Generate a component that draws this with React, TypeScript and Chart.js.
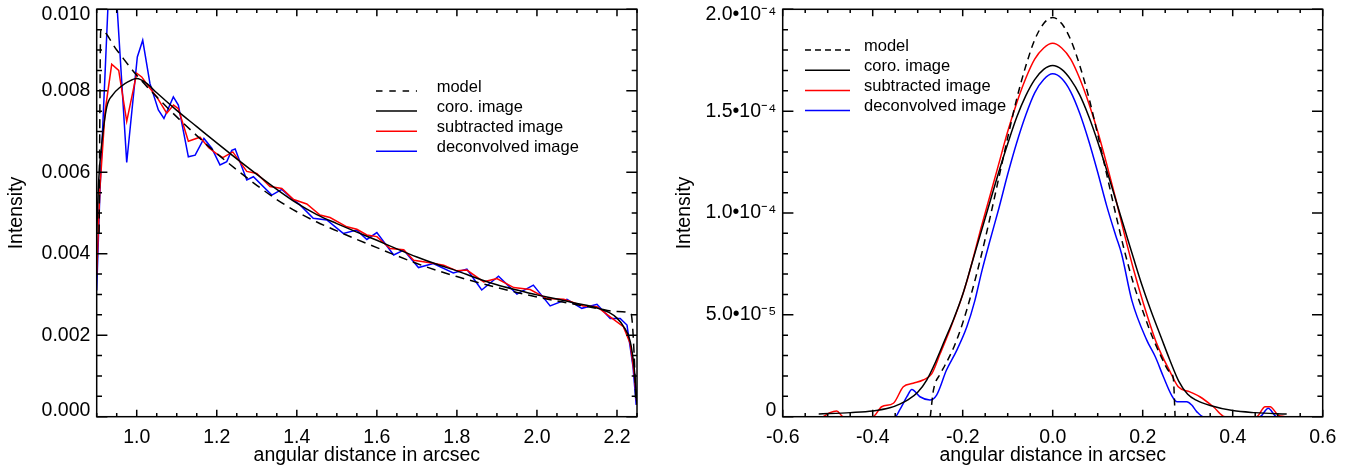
import React, { useEffect, useRef } from 'react';
import { Chart, registerables } from 'chart.js';

Chart.register(...registerables);

const FONT = "'Liberation Sans', Arial, Helvetica, sans-serif";
const TICK_SIZE = 19.5;
const LEGEND_SIZE = 16.5;

const seriesLabels = ['model', 'coro. image', 'subtracted image', 'deconvolved image'];
const seriesColors = ['#000000', '#000000', '#ff0000', '#0000ff'];

// ---------------- Left panel ----------------
const leftXTicks = [1.0, 1.2, 1.4, 1.6, 1.8, 2.0, 2.2];
const leftXTickLabels = ['1.0', '1.2', '1.4', '1.6', '1.8', '2.0', '2.2'];
const leftYTicks = [0, 0.002, 0.004, 0.006, 0.008, 0.01];
const leftYTickLabels = ['0.000', '0.002', '0.004', '0.006', '0.008', '0.010'];

const leftModelX = [0.906, 0.91, 0.95, 1.0, 1.05, 1.1, 1.15, 1.2, 1.25, 1.3, 1.35, 1.4, 1.45, 1.5, 1.55, 1.6, 1.65, 1.7, 1.75, 1.8, 1.85, 1.9, 1.95, 2.0, 2.05, 2.1, 2.15, 2.2, 2.235, 2.243, 2.247];
const leftModelY = [0.0045, 0.0095, 0.009, 0.00838, 0.00785, 0.00736, 0.0069, 0.00646, 0.00606, 0.00568, 0.00533, 0.00503, 0.00478, 0.00456, 0.00435, 0.00415, 0.00395, 0.00376, 0.00359, 0.00344, 0.0033, 0.00317, 0.00305, 0.00294, 0.00284, 0.00275, 0.00266, 0.00258, 0.00253, 0.0015, 0.0004];

const leftCoroX = [0.9, 0.905, 0.9125, 0.925, 0.94, 0.96, 0.98, 1.0, 1.025, 1.05, 1.1, 1.15, 1.2, 1.25, 1.3, 1.35, 1.4, 1.45, 1.5, 1.55, 1.6, 1.65, 1.7, 1.75, 1.8, 1.85, 1.9, 1.95, 2.0, 2.05, 2.1, 2.15, 2.18, 2.2, 2.216, 2.233, 2.243, 2.25];
const leftCoroY = [0.0045, 0.0058, 0.0067, 0.0076, 0.0079, 0.0081, 0.00823, 0.0083, 0.00818, 0.00795, 0.00752, 0.00712, 0.00672, 0.00633, 0.00595, 0.00558, 0.00524, 0.00496, 0.00474, 0.00453, 0.00433, 0.00412, 0.00392, 0.00374, 0.00358, 0.0034, 0.00324, 0.00311, 0.00299, 0.00289, 0.00278, 0.00267, 0.00256, 0.00242, 0.00222, 0.00185, 0.0012, 0.0003];

const leftSubX = [0.9, 0.908, 0.921, 0.9375, 0.955, 0.975, 1.0, 1.0125, 1.03, 1.05, 1.075, 1.092, 1.104, 1.129, 1.158, 1.18, 1.2, 1.215, 1.24, 1.275, 1.3, 1.333, 1.3625, 1.392, 1.425, 1.458, 1.483, 1.525, 1.55, 1.575, 1.6, 1.633, 1.667, 1.692, 1.733, 1.767, 1.8, 1.825, 1.867, 1.9, 1.942, 1.983, 2.025, 2.067, 2.116, 2.15, 2.183, 2.216, 2.233, 2.243, 2.25];
const leftSubY = [0.0035, 0.0056, 0.0075, 0.00865, 0.0085, 0.00725, 0.00843, 0.00834, 0.0081, 0.00785, 0.00745, 0.00765, 0.00756, 0.00676, 0.00686, 0.0066, 0.00645, 0.00636, 0.0065, 0.00602, 0.00597, 0.00565, 0.0056, 0.00533, 0.00522, 0.00495, 0.00489, 0.00466, 0.0046, 0.00446, 0.00442, 0.00413, 0.0041, 0.00384, 0.00378, 0.00372, 0.00358, 0.0036, 0.00331, 0.00339, 0.00317, 0.00312, 0.0029, 0.00288, 0.00272, 0.0027, 0.00245, 0.00221, 0.0018, 0.00106, 0.00029];

const leftDeconvX = [0.9, 0.908, 0.9375, 0.975, 1.0015, 1.015, 1.033, 1.054, 1.068, 1.0915, 1.104, 1.129, 1.146, 1.168, 1.1875, 1.208, 1.225, 1.2375, 1.246, 1.275, 1.2915, 1.3375, 1.3625, 1.392, 1.408, 1.441, 1.475, 1.516, 1.55, 1.575, 1.6, 1.642, 1.667, 1.704, 1.741, 1.791, 1.825, 1.862, 1.904, 1.95, 1.991, 2.033, 2.075, 2.112, 2.15, 2.183, 2.208, 2.225, 2.24, 2.248];
const leftDeconvY = [0.0031, 0.0055, 0.0122, 0.00624, 0.00883, 0.00924, 0.00818, 0.00753, 0.00732, 0.00785, 0.00765, 0.00638, 0.00642, 0.00683, 0.00659, 0.00618, 0.00626, 0.00654, 0.00657, 0.00581, 0.00589, 0.00544, 0.00558, 0.00532, 0.0052, 0.00487, 0.00483, 0.0045, 0.00458, 0.00435, 0.00452, 0.00397, 0.00409, 0.00366, 0.00376, 0.00353, 0.00362, 0.00311, 0.00345, 0.00301, 0.00323, 0.00272, 0.00288, 0.00266, 0.00276, 0.00241, 0.00241, 0.00225, 0.00123, 0.00029];

// ---------------- Right panel ----------------
const rightXTicks = [-0.6, -0.4, -0.2, 0.0, 0.2, 0.4, 0.6];
const rightXTickLabels = ['-0.6', '-0.4', '-0.2', '0.0', '0.2', '0.4', '0.6'];
const rightYTicks = [0, 5e-5, 1e-4, 1.5e-4, 2e-4];
const rightYTickLabels = ['0', '5.0\u202210\u207B\u2075', '1.0\u202210\u207B\u2074', '1.5\u202210\u207B\u2074', '2.0\u202210\u207B\u2074'];

const rightModelX = [-0.272, -0.265, -0.25, -0.24, -0.22, -0.2, -0.18, -0.16, -0.14, -0.12, -0.1, -0.08, -0.06, -0.04, -0.02, 0, 0.02, 0.04, 0.06, 0.08, 0.1, 0.12, 0.14, 0.16, 0.18, 0.2, 0.22, 0.24, 0.26, 0.268, 0.272];
const rightModelY = [0, 1.3e-5, 2.1e-5, 2.5e-5, 3.4e-5, 4.6e-5, 6.1e-5, 7.8e-5, 9.7e-5, 11.7e-5, 13.7e-5, 15.6e-5, 17.2e-5, 18.5e-5, 19.3e-5, 19.6e-5, 19.3e-5, 18.5e-5, 17.25e-5, 15.7e-5, 13.85e-5, 11.9e-5, 9.95e-5, 8.1e-5, 6.5e-5, 5.2e-5, 4.0e-5, 3.0e-5, 2.2e-5, 1.9e-5, 0];

const rightCoroX = [-0.52, -0.45, -0.4, -0.36, -0.34, -0.32, -0.3, -0.28, -0.26, -0.24, -0.22, -0.2, -0.18, -0.16, -0.14, -0.12, -0.1, -0.08, -0.06, -0.04, -0.02, 0, 0.02, 0.04, 0.06, 0.08, 0.1, 0.12, 0.14, 0.16, 0.18, 0.2, 0.22, 0.24, 0.26, 0.28, 0.3, 0.32, 0.35, 0.4, 0.45, 0.52];
const rightCoroY = [0.13e-5, 0.2e-5, 0.28e-5, 0.45e-5, 0.62e-5, 0.85e-5, 1.2e-5, 1.8e-5, 2.7e-5, 3.75e-5, 4.8e-5, 6.0e-5, 7.5e-5, 9.0e-5, 10.5e-5, 12.0e-5, 13.4e-5, 14.7e-5, 15.75e-5, 16.55e-5, 17.05e-5, 17.24e-5, 17.05e-5, 16.55e-5, 15.8e-5, 14.75e-5, 13.5e-5, 12.1e-5, 10.65e-5, 9.2e-5, 7.75e-5, 6.35e-5, 5.1e-5, 3.95e-5, 2.8e-5, 1.75e-5, 1.1e-5, 0.8e-5, 0.55e-5, 0.3e-5, 0.2e-5, 0.13e-5];

const rightSubX = [-0.51, -0.495, -0.48, -0.465, -0.4, -0.38, -0.354, -0.332, -0.31, -0.288, -0.269, -0.25, -0.228, -0.206, -0.19, -0.173, -0.16, -0.14, -0.12, -0.1, -0.08, -0.06, -0.04, -0.02, 0, 0.02, 0.04, 0.06, 0.08, 0.1, 0.12, 0.14, 0.16, 0.18, 0.201, 0.231, 0.261, 0.279, 0.305, 0.327, 0.357, 0.383, 0.453, 0.472, 0.483, 0.501, 0.516];
const rightSubY = [0, 0.2e-5, 0.28e-5, 0, 0, 0.49e-5, 0.66e-5, 1.47e-5, 1.64e-5, 1.8e-5, 2.1e-5, 3.1e-5, 4.3e-5, 5.6e-5, 6.7e-5, 8.1e-5, 9.2e-5, 10.8e-5, 12.4e-5, 14.0e-5, 15.4e-5, 16.6e-5, 17.55e-5, 18.1e-5, 18.33e-5, 18.1e-5, 17.55e-5, 16.6e-5, 15.4e-5, 14.0e-5, 12.4e-5, 10.7e-5, 8.9e-5, 7.2e-5, 5.6e-5, 3.6e-5, 2.2e-5, 1.47e-5, 1.22e-5, 0.98e-5, 0.49e-5, 0, 0, 0.49e-5, 0.49e-5, 0.08e-5, 0];

const rightDeconvX = [-0.52, -0.35, -0.34, -0.324, -0.313, -0.295, -0.273, -0.258, -0.236, -0.213, -0.191, -0.173, -0.158, -0.14, -0.12, -0.1, -0.08, -0.06, -0.04, -0.02, 0, 0.02, 0.04, 0.06, 0.08, 0.1, 0.12, 0.14, 0.153, 0.176, 0.209, 0.228, 0.246, 0.264, 0.276, 0.298, 0.309, 0.32, 0.335, 0.46, 0.479, 0.498, 0.52];
const rightDeconvY = [0, 0, 0.33e-5, 0.98e-5, 1.34e-5, 0.98e-5, 0.82e-5, 1.06e-5, 2.29e-5, 3.27e-5, 4.4e-5, 5.7e-5, 7.1e-5, 8.6e-5, 10.2e-5, 11.9e-5, 13.45e-5, 14.8e-5, 15.9e-5, 16.55e-5, 16.83e-5, 16.6e-5, 15.95e-5, 14.9e-5, 13.55e-5, 12.0e-5, 10.35e-5, 8.9e-5, 8.0e-5, 5.7e-5, 3.76e-5, 2.94e-5, 1.96e-5, 1.06e-5, 0.74e-5, 0.74e-5, 0.57e-5, 0.25e-5, 0, 0, 0.41e-5, 0, 0];

type Panel = {
  series: { x: number[]; y: number[] }[];
  smooth: boolean[];
  modelDash: number[];
  xMin: number; xMax: number; yMin: number; yMax: number;
  xTicks: number[]; xTickLabels: string[];
  yTicks: number[]; yTickLabels: string[];
  xMinor: number; yMinor: number;
  yAxisWidth: number; xAxisHeight: number; top: number; padRight: number;
  yTitlePad: number;
  legend: { x0: number; x1: number; tx: number; y0: number; dy: number; textDy: number; dash: number[] };
};

function frameLegendPlugin(p: Panel) {
  return {
    id: 'frameLegend',
    afterDraw(chart: any) {
      const { ctx, chartArea: ca } = chart;
      const xs = chart.scales.x;
      const ys = chart.scales.y;
      const xMajorLen = 7, xMinorLen = 3.7, yMajorLen = 10.7, yMinorLen = 5.3;
      ctx.save();
      ctx.strokeStyle = '#000';
      ctx.lineWidth = 1.5;
      ctx.setLineDash([]);
      ctx.beginPath();
      const kx0 = Math.ceil(p.xMin / p.xMinor - 1e-6);
      const kx1 = Math.floor(p.xMax / p.xMinor + 1e-6);
      for (let k = kx0; k <= kx1; k++) {
        const v = k * p.xMinor;
        const major = p.xTicks.some((t) => Math.abs(t - v) < p.xMinor / 10);
        const len = major ? xMajorLen : xMinorLen;
        const px = xs.getPixelForValue(v);
        ctx.moveTo(px, ca.bottom); ctx.lineTo(px, ca.bottom - len);
        ctx.moveTo(px, ca.top); ctx.lineTo(px, ca.top + len);
      }
      const ky0 = Math.ceil(p.yMin / p.yMinor - 1e-6);
      const ky1 = Math.floor(p.yMax / p.yMinor + 1e-6);
      for (let k = ky0; k <= ky1; k++) {
        const v = k * p.yMinor;
        const major = p.yTicks.some((t) => Math.abs(t - v) < p.yMinor / 10);
        const len = major ? yMajorLen : yMinorLen;
        const py = ys.getPixelForValue(v);
        ctx.moveTo(ca.left, py); ctx.lineTo(ca.left + len, py);
        ctx.moveTo(ca.right, py); ctx.lineTo(ca.right - len, py);
      }
      ctx.stroke();
      ctx.strokeRect(ca.left, ca.top, ca.right - ca.left, ca.bottom - ca.top);

      const L = p.legend;
      chart.data.datasets.forEach((ds: any, i: number) => {
        const yLine = ca.top + L.y0 + i * L.dy;
        ctx.beginPath();
        ctx.strokeStyle = ds.borderColor;
        ctx.lineWidth = 1.5;
        ctx.setLineDash(ds.borderDash && ds.borderDash.length ? L.dash : []);
        ctx.moveTo(ca.left + L.x0, yLine);
        ctx.lineTo(ca.left + L.x1, yLine);
        ctx.stroke();
        ctx.setLineDash([]);
        ctx.fillStyle = '#000';
        ctx.font = `${LEGEND_SIZE}px ${FONT}`;
        ctx.textAlign = 'left';
        ctx.textBaseline = 'alphabetic';
        ctx.fillText(ds.label, ca.left + L.tx, yLine + L.textDy);
      });
      ctx.restore();
    },
  };
}

function buildConfig(p: Panel): any {
  return {
    type: 'line',
    data: {
      datasets: p.series.map((s, i) => ({
        label: seriesLabels[i],
        data: s.x.map((x, j) => ({ x, y: s.y[j] })),
        borderColor: seriesColors[i],
        backgroundColor: seriesColors[i],
        borderWidth: 1.5,
        borderDash: i === 0 ? p.modelDash : [],
        pointRadius: 0,
        pointHoverRadius: 0,
        fill: false,
        tension: 0,
        cubicInterpolationMode: p.smooth[i] ? 'monotone' : 'default',
      })),
    },
    options: {
      responsive: false,
      animation: false,
      events: [],
      layout: { padding: { left: 0, top: p.top, right: p.padRight, bottom: 0 } },
      plugins: { legend: { display: false }, tooltip: { enabled: false } },
      scales: {
        x: {
          type: 'linear',
          position: 'bottom',
          min: p.xMin,
          max: p.xMax,
          grid: { display: false, drawTicks: false },
          border: { display: false },
          afterBuildTicks: (s: any) => { s.ticks = p.xTicks.map((v) => ({ value: v })); },
          ticks: {
            autoSkip: false, maxRotation: 0, minRotation: 0, padding: 9, color: '#000',
            font: { family: FONT, size: TICK_SIZE, lineHeight: 1.2 },
            callback: (_v: any, i: number) => p.xTickLabels[i],
          },
          title: {
            display: true, text: 'angular distance in arcsec', color: '#000',
            font: { family: FONT, size: TICK_SIZE, lineHeight: 1.2 },
            padding: { top: 0, bottom: 2.5 },
          },
          afterFit: (s: any) => { s.height = p.xAxisHeight; s.paddingLeft = 0; s.paddingRight = 0; },
        },
        y: {
          type: 'linear',
          position: 'left',
          min: p.yMin,
          max: p.yMax,
          grid: { display: false, drawTicks: false },
          border: { display: false },
          afterBuildTicks: (s: any) => { s.ticks = p.yTicks.map((v) => ({ value: v })); },
          ticks: {
            autoSkip: false, padding: 6.3, color: '#000',
            font: { family: FONT, size: TICK_SIZE, lineHeight: 0.58 },
            callback: (_v: any, i: number) => {
              const lbl = p.yTickLabels[i];
              if (i === 0) return [lbl, ''];
              if (i === p.yTickLabels.length - 1) return ['', lbl];
              return lbl;
            },
          },
          title: {
            display: true, text: 'Intensity', color: '#000',
            font: { family: FONT, size: TICK_SIZE, lineHeight: 1.2 },
            padding: { top: p.yTitlePad, bottom: 0 },
          },
          afterFit: (s: any) => { s.width = p.yAxisWidth; s.paddingTop = 0; s.paddingBottom = 0; },
        },
      },
    },
    plugins: [frameLegendPlugin(p)],
  };
}

const leftPanel: Panel = {
  series: [
    { x: leftModelX, y: leftModelY },
    { x: leftCoroX, y: leftCoroY },
    { x: leftSubX, y: leftSubY },
    { x: leftDeconvX, y: leftDeconvY },
  ],
  smooth: [true, true, false, false],
  modelDash: [9, 6],
  xMin: 0.9, xMax: 2.25, yMin: 0, yMax: 0.01,
  xTicks: leftXTicks, xTickLabels: leftXTickLabels,
  yTicks: leftYTicks, yTickLabels: leftYTickLabels,
  xMinor: 0.05, yMinor: 0.0005,
  yAxisWidth: 96.7, xAxisHeight: 53.3, top: 9.3, padRight: 31,
  yTitlePad: 5.3,
  legend: { x0: 279.3, x1: 320.3, tx: 340, y0: 81.7, dy: 20.1, textDy: 1, dash: [6.5, 6.8] },
};

const rightPanel: Panel = {
  series: [
    { x: rightModelX, y: rightModelY },
    { x: rightCoroX, y: rightCoroY },
    { x: rightSubX, y: rightSubY },
    { x: rightDeconvX, y: rightDeconvY },
  ],
  smooth: [true, true, true, true],
  modelDash: [7, 5],
  xMin: -0.6, xMax: 0.6, yMin: 0, yMax: 2e-4,
  xTicks: rightXTicks, xTickLabels: rightXTickLabels,
  yTicks: rightYTicks, yTickLabels: rightYTickLabels,
  xMinor: 0.05, yMinor: 1e-5,
  yAxisWidth: 114.7, xAxisHeight: 53.3, top: 9.3, padRight: 30.3,
  yTitlePad: 4.8,
  legend: { x0: 22.3, x1: 67.3, tx: 81.3, y0: 40.7, dy: 20.2, textDy: 0.7, dash: [6, 4] },
};

function ChartPanel({ panel, left, width }: { panel: Panel; left: number; width: number }) {
  const ref = useRef<HTMLCanvasElement | null>(null);
  useEffect(() => {
    if (!ref.current) return;
    const chart = new Chart(ref.current, buildConfig(panel));
    return () => chart.destroy();
  }, [panel]);
  return (
    <canvas
      ref={ref}
      width={width}
      height={470}
      style={{ position: 'absolute', left, top: 0, width, height: 470, display: 'block' }}
    />
  );
}

export default function App() {
  return (
    <div style={{ position: 'fixed', left: 0, top: 0, width: 1353, height: 470, background: '#ffffff', overflow: 'hidden' }}>
      <ChartPanel panel={leftPanel} left={0} width={668} />
      <ChartPanel panel={rightPanel} left={668} width={685} />
    </div>
  );
}
